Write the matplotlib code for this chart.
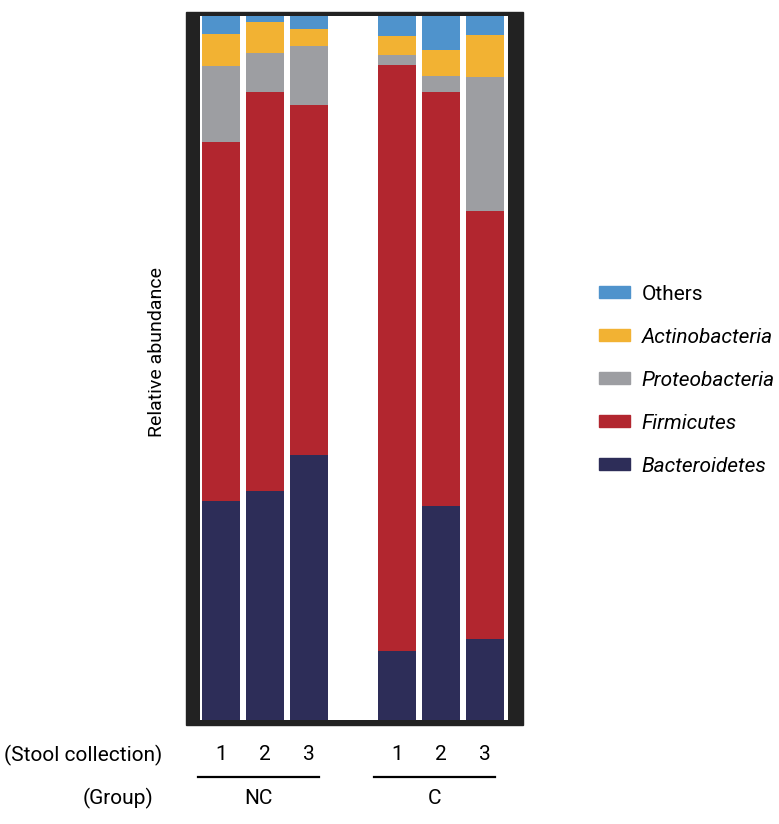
import matplotlib
matplotlib.use("Agg")
import matplotlib.pyplot as plt
from matplotlib.patches import Rectangle, Patch
from matplotlib.lines import Line2D
import numpy as np

plt.rcParams['font.family'] = ['Roboto', 'DejaVu Sans']

# relative abundance (%) per sample
samples = ['NC1', 'NC2', 'NC3', 'C1', 'C2', 'C3']
stool = ['1', '2', '3', '1', '2', '3']
groups = ['NC', 'C']
bacteroidetes = [31.1, 32.5, 37.6, 9.8, 30.4, 11.5]
firmicutes = [51.0, 56.7, 49.8, 83.2, 58.8, 60.8]
proteobacteria = [10.8, 5.6, 8.3, 1.4, 2.3, 19.1]
actinobacteria = [4.6, 4.4, 2.5, 2.7, 3.7, 5.9]
others = [2.5, 0.8, 1.8, 2.9, 4.8, 2.7]

layers = [
    ('Bacteroidetes', bacteroidetes, '#2d2d58', True),
    ('Firmicutes', firmicutes, '#b2262f', True),
    ('Proteobacteria', proteobacteria, '#9d9ea2', True),
    ('Actinobacteria', actinobacteria, '#f2b233', True),
    ('Others', others, '#4f93cc', False),
]

W, H = 779, 824
fig = plt.figure(figsize=(W / 100, H / 100), dpi=100)

# dark frame behind the plotting area
fig.patches.append(Rectangle((186 / W, 1 - 725 / H), (523 - 186) / W, (725 - 12) / H,
                             transform=fig.transFigure, color='#222222', zorder=-1))

ax = fig.add_axes([200 / W, 1 - 720 / H, 308 / W, 704 / H])
ax.set_facecolor('white')

x = np.array([0, 1, 2, 4, 5, 6])
bottom = np.zeros(len(samples))
for name, vals, col, ital in layers:
    vals = np.array(vals)
    ax.bar(x, vals, 0.86, bottom=bottom, color=col, edgecolor='none')
    bottom += vals

ax.set_xlim(-0.485, 6.52)
ax.set_ylim(0, bottom.max())
ax.set_xticks([])
ax.set_yticks([])
for s in ax.spines.values():
    s.set_visible(False)

fig.text(157 / W, 1 - 352 / H, 'Relative abundance', rotation=90, ha='center', va='center',
         fontsize=14)

# x labels beneath
ytick = 1 - 755 / H
for xi, lab in zip(x, stool):
    fig.text(ax.transData.transform((xi, 0))[0] / W, ytick, lab, ha='center', va='center',
             fontsize=15)
fig.text(162 / W, ytick, '(Stool collection)', ha='right', va='center', fontsize=15)
fig.text(153 / W, 1 - 798 / H, '(Group)', ha='right', va='center', fontsize=15)

yl = 1 - 777 / H
for (x0, x1), g in zip([(198, 319), (374, 495)], groups):
    fig.add_artist(Line2D([x0 / W, x1 / W], [yl, yl], color='black', lw=1.6,
                          transform=fig.transFigure))
    fig.text((x0 + x1) / 2 / W, 1 - 798 / H, g, ha='center', va='center', fontsize=15)

# legend
handles = []
labels = []
for name, vals, col, ital in layers[::-1]:
    handles.append(Patch(color=col))
    labels.append(name)
leg = fig.legend(handles, labels, loc='upper left', bbox_to_anchor=(580 / W, 1 - 266 / H),
                 frameon=False, fontsize=15, handlelength=1.5, handleheight=0.5,
                 labelspacing=1.15, handletextpad=0.55)
for t, (name, vals, col, ital) in zip(leg.get_texts(), layers[::-1]):
    if ital:
        t.set_fontstyle('italic')

fig.savefig('out.png', dpi=100)
